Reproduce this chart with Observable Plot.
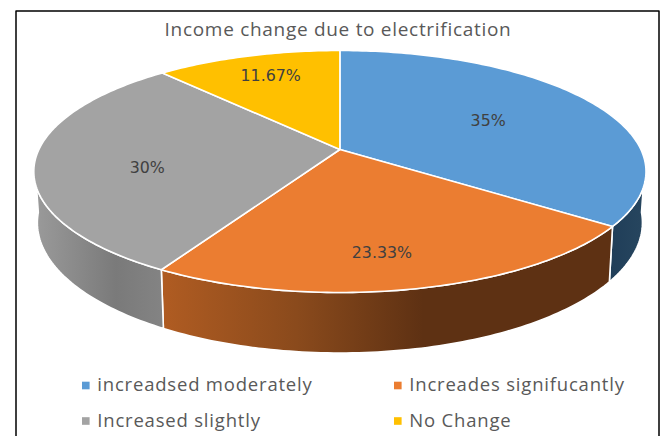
<!DOCTYPE html>
<html>
<head>
<meta charset="utf-8">
<script src="https://cdn.jsdelivr.net/npm/d3@7"></script>
<script src="https://cdn.jsdelivr.net/npm/@observablehq/plot@0.6"></script>
<style>
  html, body { margin: 0; padding: 0; background: #fff; }
  svg { display: block; }
  .pie-title text { letter-spacing: 0.7px; }
  .pie-legend text { letter-spacing: 0.8px; }
</style>
</head>
<body>
<div id="chart"></div>
<script>
const chartTitle = "Income change due to electrification";
const categories = ["increadsed moderately", "Increades signifucantly", "Increased slightly", "No Change"];
const shares = [35, 23.33, 30, 11.67];
const shareLabels = ["35%", "23.33%", "30%", "11.67%"];
const topColors = ["#5B9BD5", "#EB7D31", "#A3A3A3", "#FFC000"];
const labelAngles = [64, 171, 256, 340];
const labelRadii = [0.573, 0.769, 0.641, 0.76];

const W = 665, H = 436;
const FONT = "'Open Sans', sans-serif";
const LABEL_FONT = "'DejaVu Sans', sans-serif";

// Perspective projection of the pie's disc onto the page
const persp = 0.1818;
const upper = {cx: 339.4, k: 301, a: -89.9, b: 149};
const lower = {cx: 339.4, k: 297.5, a: -90, b: 198.4};
function project(rim, deg, r = 1) {
  const t = deg * Math.PI / 180;
  const u = r * Math.sin(t), v = r * Math.cos(t), w = 1 + persp * v;
  return {x: rim.cx + rim.k * u / w, y: (rim.a * v + rim.b) / w};
}
function arc(rim, from, to) {
  const n = Math.max(2, Math.ceil(Math.abs(to - from)));
  return d3.range(n + 1).map(i => project(rim, from + (to - from) * i / n));
}

// Slice boundaries in degrees, clockwise from 12 o'clock
const total = d3.sum(shares);
const ends = Array.from(d3.cumsum(shares), s => s / total * 360);
const starts = [0, ...ends.slice(0, -1)];

const topFaces = categories.map((c, i) => [project(upper, 0, 0), ...arc(upper, starts[i], ends[i]), project(upper, 0, 0)]);

function side(from, to) {
  const a = arc(upper, from, to), b = arc(lower, to, from);
  return [...a, ...b, a[0]];
}
const sides = [
  {pts: side(96, ends[0]), fill: "url(#sideBlue)"},
  {pts: side(ends[0], ends[1]), fill: "url(#sideOrange)"},
  {pts: side(ends[1], 264), fill: "url(#sideGray)"}
];

const gradient = (id, x1, x2, stops) => `<linearGradient id="${id}" gradientUnits="userSpaceOnUse" x1="${x1}" y1="0" x2="${x2}" y2="0">` +
  stops.map(([o, c]) => `<stop offset="${o}" stop-color="${c}"/>`).join("") + `</linearGradient>`;
const defs = () => {
  const g = document.createElementNS("http://www.w3.org/2000/svg", "defs");
  g.innerHTML =
    gradient("sideBlue", 606, 645, [[0, "#1F3D58"], [1, "#27465F"]]) +
    gradient("sideOrange", 161, 612, [[0, "#B05C22"], [0.3, "#8A4A1C"], [0.58, "#5E3113"], [1, "#5E3113"]]) +
    gradient("sideGray", 35, 165, [[0, "#9A9A9A"], [0.62, "#7A7A7A"], [1, "#848484"]]);
  return g;
};

const frame = [{x: 15.5, y: H}, {x: 15.5, y: 10.5}, {x: 658.5, y: 10.5}, {x: 658.5, y: H}];

const labels = shareLabels.map((text, i) => ({text, ...project(upper, labelAngles[i], labelRadii[i])}));

const legend = categories.map((name, i) => ({
  name,
  color: topColors[i],
  x: i % 2 ? 397.3 : 85.3,
  y: i < 2 ? 385 : 420.5
}));

const chart = Plot.plot({
  width: W,
  height: H,
  margin: 0,
  style: {background: "#fff", fontFamily: FONT},
  x: {domain: [0, W], range: [0, W], axis: null},
  y: {domain: [0, H], range: [0, H], axis: null},
  marks: [
    defs,
    Plot.line(frame, {x: "x", y: "y", stroke: "#000", strokeWidth: 1.5, curve: "linear"}),
    ...sides.map(s => Plot.line(s.pts, {x: "x", y: "y", fill: s.fill, stroke: "#fff", strokeWidth: 1.6, curve: "linear", strokeLinejoin: "round"})),
    ...topFaces.map((pts, i) => Plot.line(pts, {x: "x", y: "y", fill: topColors[i], stroke: "#fff", strokeWidth: 1.6, curve: "linear", strokeLinejoin: "round"})),
    Plot.text([chartTitle], {x: () => 337.5, y: () => 29, text: d => d, fontSize: 19, fontFamily: FONT, fill: "#595959", className: "pie-title"}),
    Plot.text(labels, {x: "x", y: "y", text: "text", fontSize: 15.8, fontFamily: LABEL_FONT, fill: "#404040"}),
    Plot.dot(legend, {x: "x", y: "y", symbol: "square", r: 4.3, fill: "color", stroke: "none"}),
    Plot.text(legend, {x: d => d.x + 11.5, y: "y", text: "name", textAnchor: "start", fontSize: 18.5, fontFamily: FONT, fill: "#595959", className: "pie-legend"})
  ]
});
document.getElementById("chart").append(chart);
</script>
</body>
</html>
